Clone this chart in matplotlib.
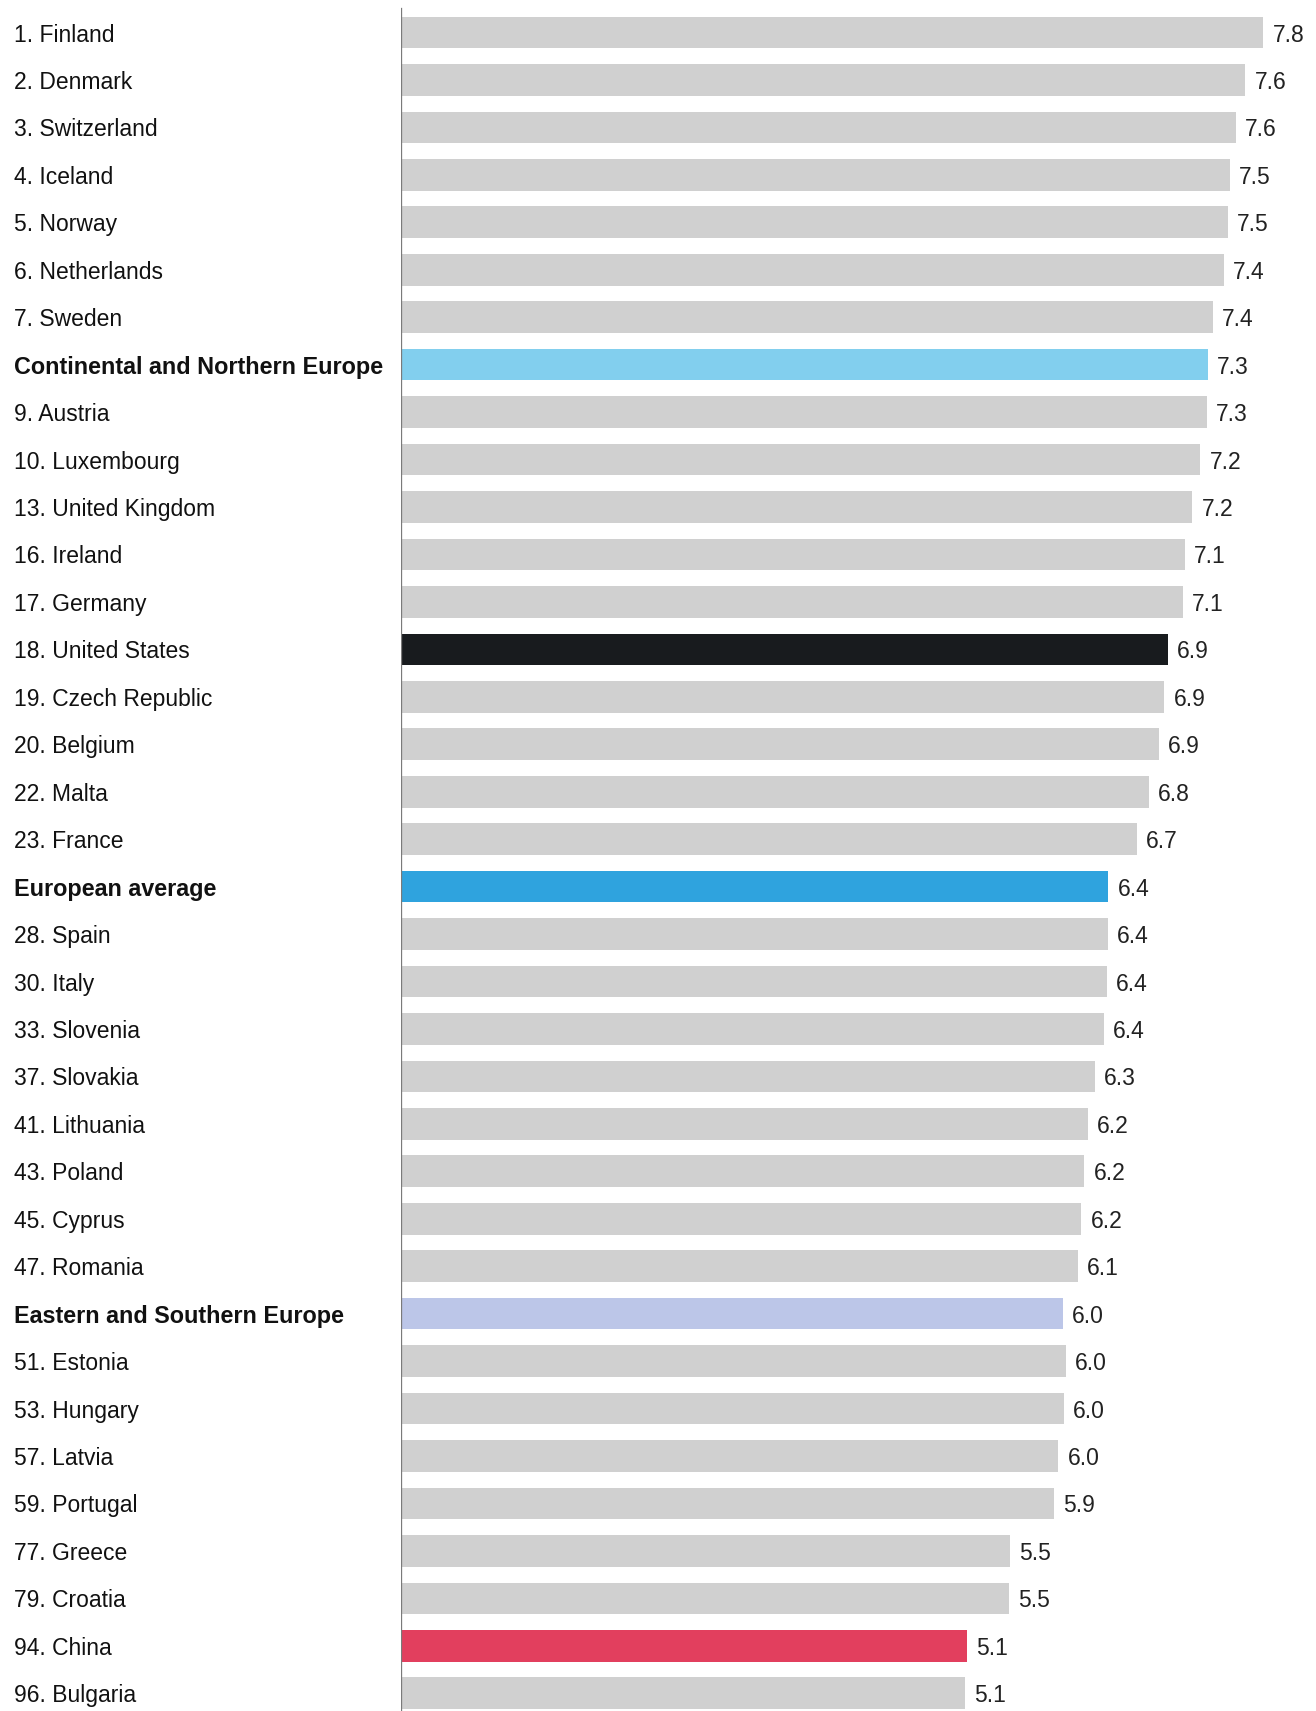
import matplotlib
matplotlib.use("Agg")
import matplotlib.pyplot as plt

# Data: happiness score by country / group
labels = [
    "1. Finland", "2. Denmark", "3. Switzerland", "4. Iceland", "5. Norway",
    "6. Netherlands", "7. Sweden", "Continental and Northern Europe",
    "9. Austria", "10. Luxembourg", "13. United Kingdom", "16. Ireland",
    "17. Germany", "18. United States", "19. Czech Republic", "20. Belgium",
    "22. Malta", "23. France", "European average", "28. Spain", "30. Italy",
    "33. Slovenia", "37. Slovakia", "41. Lithuania", "43. Poland",
    "45. Cyprus", "47. Romania", "Eastern and Southern Europe",
    "51. Estonia", "53. Hungary", "57. Latvia", "59. Portugal",
    "77. Greece", "79. Croatia", "94. China", "96. Bulgaria",
]
values = [
    7.809, 7.646, 7.560, 7.504, 7.488, 7.449, 7.354, 7.302, 7.294, 7.238,
    7.165, 7.094, 7.076, 6.940, 6.911, 6.864, 6.773, 6.664, 6.404, 6.401,
    6.387, 6.363, 6.281, 6.215, 6.186, 6.159, 6.124, 5.995, 6.022, 6.000,
    5.950, 5.911, 5.515, 5.505, 5.124, 5.102,
]
groups = ["Continental and Northern Europe", "European average",
          "Eastern and Southern Europe"]

highlight = {
    "Continental and Northern Europe": "#82cfee",
    "European average": "#2fa3de",
    "Eastern and Southern Europe": "#bcc6e8",
    "18. United States": "#181b1e",
    "94. China": "#e23f5e",
}

plt.rcParams['font.family'] = ['Liberation Sans', 'DejaVu Sans']

W, H = 1316, 1711
fig = plt.figure(figsize=(W / 100, H / 100), dpi=100)

x0 = 401
px_per_unit = 110.3
ax = fig.add_axes([x0 / W, 0, 1 - x0 / W, 1])
ax.set_xlim(0, (W - x0) / px_per_unit)

row = 47.45
top = 32.5
ax.set_ylim((H - top) / row, -top / row)

ys = list(range(len(labels)))
colors = [highlight.get(l, "#d0d0d0") for l in labels]
ax.barh(ys, values, height=0.666, color=colors, left=0.01)

# small nudge so text sits optically centred on the bars
dy = 2.5 / row
for y, v, l in zip(ys, values, labels):
    ax.text(v + 0.01 + 9 / px_per_unit, y + dy, f"{v:.1f}", va="center",
            ha="left", fontsize=16.5, color="#222222")
    fig.text(14 / W, 1 - (top + 2.5 + y * row) / H, l, va="center", ha="left",
             fontsize=16.8 if l in groups else 16.5, color="#111111",
             fontweight="bold" if l in groups else "normal")

ax.axvline(0, ymin=0, ymax=1 - 9 / H, color="#7a7a7a", lw=1.65)
ax.axis("off")

fig.savefig("out.png", dpi=100)
